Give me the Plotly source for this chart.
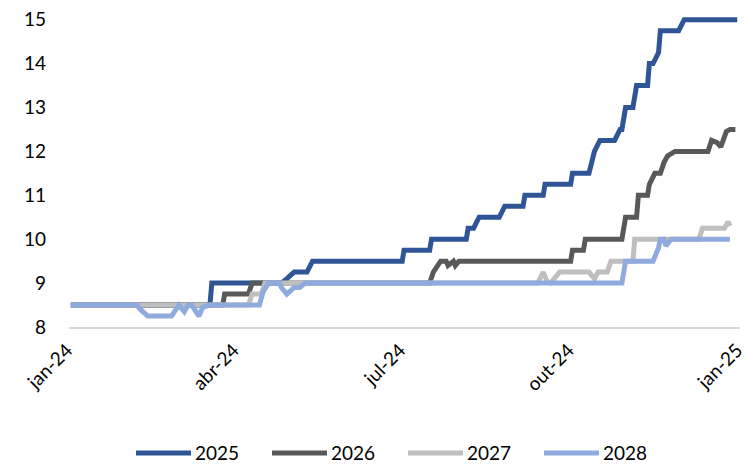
import plotly.graph_objects as go

# Market expectations for the policy rate at the end of each year (% p.a.)
series_names = ["2025", "2026", "2027", "2028"]
series_colors = ["#2F5597", "#595959", "#BFBFBF", "#8FAADC"]

dates_2025 = ["2024-01-02", "2024-03-18", "2024-03-19", "2024-04-26", "2024-04-29", "2024-05-03",
              "2024-05-10", "2024-05-13", "2024-07-01", "2024-07-02", "2024-07-16", "2024-07-17",
              "2024-08-05", "2024-08-06", "2024-08-09", "2024-08-12", "2024-08-23", "2024-08-26",
              "2024-09-05", "2024-09-06", "2024-09-16", "2024-09-17", "2024-10-01", "2024-10-02",
              "2024-10-11", "2024-10-14", "2024-10-17", "2024-10-25", "2024-10-28", "2024-10-29",
              "2024-10-31", "2024-11-04", "2024-11-06", "2024-11-12", "2024-11-13", "2024-11-15",
              "2024-11-18", "2024-11-19", "2024-11-29", "2024-12-02", "2024-12-31"]
values_2025 = [8.5, 8.5, 9.0, 9.0, 9.1, 9.25,
               9.25, 9.5, 9.5, 9.75, 9.75, 10.0,
               10.0, 10.25, 10.25, 10.5, 10.5, 10.75,
               10.75, 11.0, 11.0, 11.25, 11.25, 11.5,
               11.5, 12.0, 12.25, 12.25, 12.5, 12.5,
               13.0, 13.0, 13.5, 13.5, 14.0, 14.0,
               14.25, 14.75, 14.75, 15.0, 15.0]

dates_2026 = ["2024-01-02", "2024-03-25", "2024-03-26", "2024-04-08", "2024-04-10", "2024-07-16",
              "2024-07-18", "2024-07-22", "2024-07-25", "2024-07-26", "2024-07-29", "2024-07-30",
              "2024-08-01", "2024-10-01", "2024-10-02", "2024-10-08", "2024-10-09", "2024-10-29",
              "2024-10-31", "2024-11-06", "2024-11-07", "2024-11-12", "2024-11-13", "2024-11-16",
              "2024-11-19", "2024-11-21", "2024-11-23", "2024-11-27", "2024-12-15", "2024-12-17",
              "2024-12-20", "2024-12-22", "2024-12-25", "2024-12-27", "2024-12-30"]
values_2026 = [8.5, 8.5, 8.75, 8.75, 9.0, 9.0,
               9.25, 9.5, 9.5, 9.4, 9.5, 9.4,
               9.5, 9.5, 9.75, 9.75, 10.0, 10.0,
               10.5, 10.5, 11.0, 11.0, 11.25, 11.5,
               11.5, 11.75, 11.9, 12.0, 12.0, 12.25,
               12.2, 12.1, 12.45, 12.5, 12.5]

dates_2027 = ["2024-01-02", "2024-04-08", "2024-04-10", "2024-04-15", "2024-04-17", "2024-09-13",
              "2024-09-16", "2024-09-18", "2024-09-20", "2024-09-25", "2024-10-11", "2024-10-14",
              "2024-10-16", "2024-10-21", "2024-10-23", "2024-11-04", "2024-11-05", "2024-12-10",
              "2024-12-12", "2024-12-24", "2024-12-26", "2024-12-27"]
values_2027 = [8.5, 8.5, 8.75, 8.75, 9.0, 9.0,
               9.25, 9.05, 9.0, 9.25, 9.25, 9.1,
               9.25, 9.25, 9.5, 9.5, 10.0, 10.0,
               10.25, 10.25, 10.4, 10.3]

dates_2028 = ["2024-01-02", "2024-02-07", "2024-02-09", "2024-02-13", "2024-02-26", "2024-02-28",
              "2024-03-01", "2024-03-04", "2024-03-06", "2024-03-08", "2024-03-12", "2024-03-14",
              "2024-03-18", "2024-04-14", "2024-04-16", "2024-04-19", "2024-04-25", "2024-04-26",
              "2024-04-29", "2024-05-03", "2024-05-06", "2024-05-09", "2024-10-29", "2024-10-31",
              "2024-11-15", "2024-11-18", "2024-11-19", "2024-11-21", "2024-11-22", "2024-11-25",
              "2024-12-27"]
values_2028 = [8.5, 8.5, 8.4, 8.25, 8.25, 8.4,
               8.5, 8.35, 8.5, 8.5, 8.25, 8.45,
               8.5, 8.5, 8.8, 9.0, 9.0, 8.9,
               8.75, 8.9, 8.9, 9.0, 9.0, 9.5,
               9.5, 9.8, 10.0, 10.0, 9.85, 10.0,
               10.0]

tick_dates = ["2024-01-01", "2024-04-01", "2024-07-01", "2024-10-01", "2025-01-01"]
tick_labels = ["jan-24", "abr-24", "jul-24", "out-24", "jan-25"]
y_ticks = [8, 9, 10, 11, 12, 13, 14, 15]

all_dates = [dates_2025, dates_2026, dates_2027, dates_2028]
all_values = [values_2025, values_2026, values_2027, values_2028]

FONT = "Lato"
W, H = 747, 465
M_L, M_R, M_T, M_B = 69, 7, 15, 138

fig = go.Figure()
for name, color, xs, ys in zip(series_names, series_colors, all_dates, all_values):
    fig.add_trace(go.Scatter(
        x=xs, y=ys, name=name, mode="lines",
        line=dict(color=color, width=5),
        showlegend=False,
    ))

# Legend drawn underneath the plot: a thick line sample followed by the label
plot_w = W - M_L - M_R
plot_h = H - M_T - M_B


def px_x(px):
    return (px - M_L) / plot_w


def px_y(py):
    return (H - M_B - py) / plot_h


legend_y = px_y(453)
first_line_x = 136
entry_pitch = 136
sample_len = 55
for i, (name, color) in enumerate(zip(series_names, series_colors)):
    x0 = first_line_x + i * entry_pitch
    fig.add_shape(type="line", xref="paper", yref="paper",
                  x0=px_x(x0), x1=px_x(x0 + sample_len), y0=legend_y, y1=legend_y,
                  line=dict(color=color, width=5))
    fig.add_annotation(xref="paper", yref="paper", x=px_x(x0 + sample_len + 2), y=legend_y,
                       text=name, showarrow=False, xanchor="left", yanchor="middle",
                       font=dict(family=FONT, size=19, color="#000000"))

fig.update_layout(
    width=W, height=H,
    margin=dict(l=M_L, r=M_R, t=M_T, b=M_B, autoexpand=False),
    paper_bgcolor="white", plot_bgcolor="white",
    font=dict(family=FONT, size=19, color="#000000"),
    xaxis=dict(
        type="date", range=["2024-01-01", "2025-01-01 12:00"],
        tickmode="array", tickvals=tick_dates, ticktext=tick_labels,
        tickangle=-45, showgrid=False, zeroline=False, automargin=False,
        showline=True, linecolor="#D9D9D9", linewidth=1.5,
        ticks="", ticklabelstandoff=3, ticklabelshift=-2, ticklabeloverflow="allow",
        tickfont=dict(family=FONT, size=19, color="#000000"),
    ),
    yaxis=dict(
        range=[8, 8 + (H - M_B - M_T) / 43.9],
        tickmode="array", tickvals=y_ticks, automargin=False,
        showgrid=False, zeroline=False, showline=False,
        ticks="", ticklabelstandoff=22,
        tickfont=dict(family=FONT, size=19, color="#000000"),
    ),
)

fig.write_html("out.html")
